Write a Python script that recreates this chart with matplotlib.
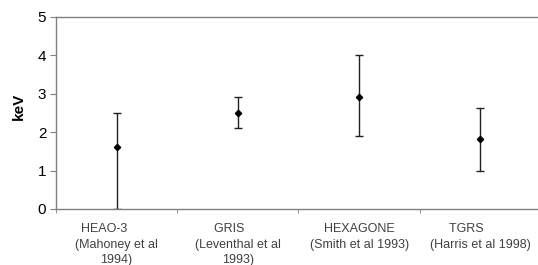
import matplotlib
matplotlib.use("Agg")
import matplotlib.pyplot as plt
import numpy as np

plt.rcParams['font.family'] = ['Liberation Sans', 'DejaVu Sans']

categories = ["HEAO-3       \n(Mahoney et al\n1994)",
              "GRIS     \n(Leventhal et al\n1993)",
              "HEXAGONE\n(Smith et al 1993)",
              "TGRS        \n(Harris et al 1998)"]
values = [1.61, 2.50, 2.92, 1.83]
upper = [2.49, 2.90, 4.00, 2.63]
lower = [0.00, 2.10, 1.89, 1.00]

fig = plt.figure(figsize=(5.38, 2.65), dpi=100)
W, H = 538, 265
ax = fig.add_axes([56 / W, (H - 209) / H, (541 - 56) / W, (209 - 16.7) / H])

x = np.arange(1, len(values) + 1)
v = np.array(values)
yerr = [v - np.array(lower), np.array(upper) - v]
ax.errorbar(x, v, yerr=yerr, fmt='D', color='black', ms=3.2, ecolor='#222222',
            elinewidth=1.0, capsize=3, capthick=1.0)

ax.set_xlim(0.5, 4.5)
ax.set_ylim(0, 5)
ax.set_yticks([0, 1, 2, 3, 4, 5])
ax.tick_params(axis='y', labelsize=11, length=4, color='#808080', direction='out', pad=3)
ax.set_xticks(x)
ax.set_xticklabels(categories, fontsize=9, color='#404040', linespacing=1.42)
ax.tick_params(axis='x', length=0, pad=10)
ax.set_xticks(np.arange(0.5, 5.0, 1.0), minor=True)
ax.tick_params(axis='x', which='minor', length=3, color='#808080', direction='out')
for s in ['left', 'bottom', 'top', 'right']:
    ax.spines[s].set_color('#808080')
    ax.spines[s].set_linewidth(1.0)
ax.set_ylabel('keV', fontsize=11, fontweight='bold')
ax.yaxis.set_label_coords(-0.063, 0.535)

fig.savefig('out.png', dpi=100)
